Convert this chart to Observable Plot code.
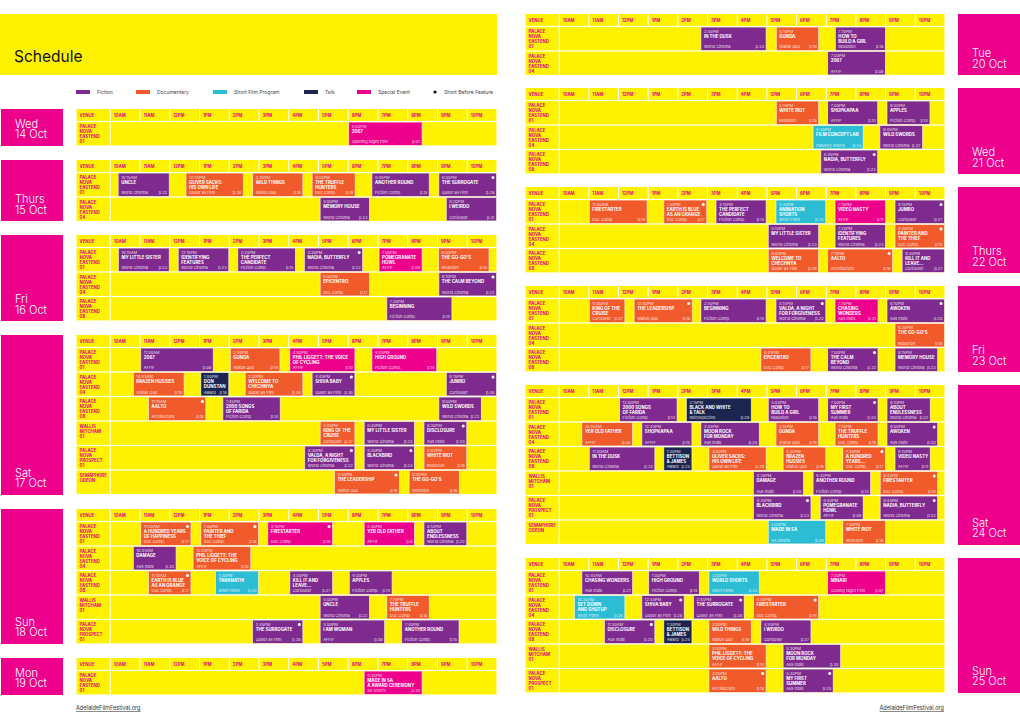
<!DOCTYPE html>
<html><head><meta charset="utf-8">
<script src="https://cdn.jsdelivr.net/npm/d3@7"></script>
<script src="https://cdn.jsdelivr.net/npm/@observablehq/plot@0.6"></script>
<style>
body{margin:0;background:#fff;font-family:Inter,"Noto Sans",sans-serif;}
#page{position:relative;width:1020px;height:721px;overflow:hidden;background:#fff;}
.daytag{position:absolute;top:0;width:62px;background:#ec008c;color:#fff;font-weight:300;font-size:11px;line-height:10.5px;box-sizing:border-box;}
.daytag span{position:absolute;left:14px;bottom:6px;white-space:pre;}
.abs{position:absolute;}
g[aria-label="title"] text{letter-spacing:0.1px;}
</style></head><body><div id="page"></div>
<script>
const YELLOW = "#fff200", PINK = "#ec008c";
const typeKeys = ["F","D","S","T","E"];
const typeNames = ["Fiction","Documentary","Short Film Program","Talk","Special Event"];
const typeColors = ["#7f2a8e","#f15a2b","#2cbcd4","#1b2550","#ec008c"];
const hourLabels = ["10AM","11AM","12PM","1PM","2PM","3PM","4PM","5PM","6PM","7PM","8PM","9PM","10PM"];
const venueLabels = {E01:"PALACE\nNOVA\nEASTEND\n01",E04:"PALACE\nNOVA\nEASTEND\n04",E08:"PALACE\nNOVA\nEASTEND\n08",W01:"WALLIS\nMITCHAM\n01",P01:"PALACE\nNOVA\nPROSPECT\n01",S:"SEMAPHORE\nODEON"};

// [venue, start hour, end hour, time label, title, category, page, type, short-before-feature]
const wed14Venues = ["E01"];
const wed14 = [
 ["E01",18.0,20.5,"6:00PM","2067","Opening Night Film","p.07","E",0]];
const thu15Venues = ["E01","E04"];
const thu15 = [
 ["E01",10.25,12.0,"10:15AM","UNCLE","World Cinema","p.22","F",0],
 ["E01",12.53,14.49,"12:30PM","OLIVER SACKS:\nHIS OWN LIFE","Queer as Film","p.28","D",0],
 ["E01",14.77,16.49,"2:45PM","WILD THINGS","Status Quo","p.19","D",0],
 ["E01",16.77,18.25,"4:50PM","THE TRUFFLE\nHUNTERS","Doc Comp.","p.18","D",0],
 ["E01",18.78,20.74,"6:45PM","ANOTHER ROUND","Fiction Comp.","p.15","F",0],
 ["E01",21.03,23.0,"9:00PM","THE SURROGATE","Queer as Film","p.28","F",1],
 ["E04",17.04,18.73,"5:00PM","MEMORY HOUSE","World Cinema","p.23","F",0],
 ["E04",21.28,23.0,"9:20PM","I WEIRDO","Curiouser","p.31","F",0]];
const fri16Venues = ["E01","E04","E08"];
const fri16 = [
 ["E01",10.26,12.0,"10:15AM","MY LITTLE SISTER","World Cinema","p.23","F",0],
 ["E01",12.27,14.0,"12:15PM","IDENTIFYING\nFEATURES","World Cinema","p.23","F",0],
 ["E01",14.27,16.24,"2:20PM","THE PERFECT\nCANDIDATE","Fiction Comp.","p.15","F",0],
 ["E01",16.51,18.5,"4:30PM","NADIA, BUTTERFLY","World Cinema","p.22","F",1],
 ["E01",19.02,20.5,"7:00PM","POMEGRANATE\nHOWL","AFFIF","p.09","E",0],
 ["E01",21.02,22.75,"9:00PM","THE GO-GO'S","Rebellion","p.18","D",0],
 ["E04",17.04,18.73,"5:00PM","EPICENTRO","Doc Comp.","p.17","D",0],
 ["E04",21.03,23.0,"9:10PM","THE CALM BEYOND","World Cinema","p.22","F",1],
 ["E08",19.28,21.5,"7:30PM","BEGINNING","Fiction Comp.","p.14","F",0]];
const sat17Venues = ["E01","E04","E08","W01","P01","S"];
const sat17 = [
 ["E01",11.01,13.48,"11:00AM","2067","AFFIF","p.08","F",0],
 ["E01",14.02,15.72,"2:00PM","GUNDA","Status Quo","p.19","D",0],
 ["E01",16.02,18.24,"4:00PM","PHIL LIGGETT: THE VOICE\nOF CYCLING","AFFIF","p.10","E",0],
 ["E01",18.78,20.99,"6:45PM","HIGH GROUND","Fiction Comp.","p.14","E",0],
 ["E04",10.76,12.5,"10:45AM","BRAZEN HUSSIES","Status Quo","p.19","D",0],
 ["E04",13.03,14.0,"1:00PM","DON\nDUNSTAN","Award","p.18","T",0],
 ["E04",14.52,16.49,"2:30PM","WELCOME TO\nCHECHNYA","Queer as Film","p.30","D",0],
 ["E04",16.77,18.24,"4:45PM","SHIVA BABY","Queer as Film","p.30","F",1],
 ["E04",21.28,23.0,"9:15PM","JUMBO","Curiouser","p.30","F",1],
 ["E08",11.27,13.23,"11:15AM","AALTO","Architecture","p.18","D",1],
 ["E08",13.77,15.73,"1:45PM","2000 SONGS\nOF FARIDA","Fiction Comp.","p.14","F",0],
 ["E08",21.03,22.49,"9:00PM","WILD SWORDS","World Cinema","p.22","F",0],
 ["W01",17.04,18.24,"5:00PM","KING OF THE\nCRUISE","Curiouser","p.27","D",0],
 ["W01",18.52,20.24,"6:30PM","MY LITTLE SISTER","World Cinema","p.23","F",0],
 ["W01",20.53,22.0,"8:30PM","DISCLOSURE","Aus Indie","p.20","F",1],
 ["P01",16.52,18.24,"4:30PM","VALDA, A NIGHT\nFOR FORGIVENESS","World Cinema","p.22","F",1],
 ["P01",18.52,20.24,"6:30PM","BLACKBIRD","World Cinema","p.23","F",1],
 ["P01",20.53,22.0,"8:40PM","WHITE RIOT","Rebellion","p.18","D",0],
 ["S",17.52,19.74,"5:30PM","THE LEADERSHIP","Status Quo","p.18","D",1],
 ["S",20.03,21.75,"8:00PM","THE GO-GO'S","Rebellion","p.18","D",0]];
const sun18Venues = ["E01","E04","E08","W01","P01"];
const sun18 = [
 ["E01",11.01,12.73,"11:00AM","A HUNDRED YEARS\nOF HAPPINESS","Doc Comp.","p.17","D",1],
 ["E01",13.03,15.0,"1:00PM","PAINTER AND\nTHE THIEF","Doc Comp.","p.18","D",1],
 ["E01",15.28,17.49,"3:15PM","FIRESTARTER","Doc Comp.","p.16","E",1],
 ["E01",18.52,20.24,"6:30PM","YER OLD FATHER","AFFIF","p.8","E",0],
 ["E01",20.53,22.0,"8:10PM","ABOUT\nENDLESSNESS","World Cinema","p.22","F",0],
 ["E04",10.76,12.23,"10:45AM","DAMAGE","Aus Indie","p.20","F",0],
 ["E04",12.77,14.74,"12:45PM","PHIL LIGGETT: THE\nVOICE OF CYCLING","AFFIF","p.10","D",0],
 ["E08",11.27,12.73,"11:15AM","EARTH IS BLUE\nAS AN ORANGE","Doc Comp.","p.17","D",1],
 ["E08",13.52,15.0,"1:30PM","TARANATHI","Short Films","p.26","S",0],
 ["E08",16.02,17.49,"4:00PM","KILL IT AND\nLEAVE...","Curiouser","p.27","F",0],
 ["E08",18.02,19.49,"6:00PM","APPLES","Fiction Comp.","p.14","F",0],
 ["W01",17.04,18.73,"5:00PM","UNCLE","World Cinema","p.22","F",0],
 ["W01",19.28,20.74,"7:15PM","THE TRUFFLE\nHUNTERS","Doc Comp.","p.18","D",0],
 ["P01",14.77,16.49,"2:45PM","THE SURROGATE","Queer as Film","p.28","F",1],
 ["P01",17.04,19.24,"5:00PM","I AM WOMAN","AFFIF","p.08","F",0],
 ["P01",19.78,21.74,"7:40PM","ANOTHER ROUND","Fiction Comp.","p.15","F",0]];
const mon19Venues = ["E01"];
const mon19 = [
 ["E01",18.52,20.5,"6:30PM","MADE IN SA\nA AWARD CEREMONY","SA Shorts","p.26","E",0]];
const tue20Venues = ["E01","E04"];
const tue20 = [
 ["E01",14.76,16.99,"2:45PM","IN THE DUSK","World Cinema","p.23","F",0],
 ["E01",17.3,18.76,"5:15PM","GUNDA","Status Quo","p.19","D",0],
 ["E01",19.29,21.01,"7:15PM","HOW TO\nBUILD A GIRL","Rebellion","p.18","F",0],
 ["E04",19.03,21.01,"7:00PM","2067","AFFIF","p.08","F",0]];
const wed21Venues = ["E01","E04","E08"];
const wed21 = [
 ["E01",17.3,18.76,"5:15PM","WHITE RIOT","Rebellion","p.18","D",0],
 ["E01",19.03,20.75,"7:00PM","SHOPKAPAA","AFFIF","p.10","F",0],
 ["E01",21.03,22.51,"9:00PM","APPLES","Fiction Comp.","p.14","F",0],
 ["E04",18.54,20.26,"6:30PM","FILM CONCEPT LAB","Industry Shorts","p.26","S",0],
 ["E04",20.79,22.26,"8:45PM","WILD SWORDS","World Cinema","p.22","F",0],
 ["E08",18.8,20.75,"6:45PM","NADIA, BUTTERFLY","World Cinema","p.22","F",1]];
const thu22Venues = ["E01","E04","E08"];
const thu22 = [
 ["E01",11.0,12.98,"11:00AM","FIRESTARTER","Doc Comp.","p.16","D",0],
 ["E01",13.51,14.99,"1:30PM","EARTH IS BLUE\nAS AN ORANGE","Doc Comp.","p.17","D",1],
 ["E01",15.27,16.99,"3:15PM","THE PERFECT\nCANDIDATE","Fiction Comp.","p.15","F",0],
 ["E01",17.29,19.0,"5:30PM","ANIMATION\nSHORTS","Short Films","p.25","S",0],
 ["E01",19.28,21.01,"7:15PM","VIDEO NASTY","AFFIF","p.11","E",0],
 ["E01",21.3,23.0,"9:15PM","JUMBO","Curiouser","p.27","F",1],
 ["E04",17.03,18.76,"5:10PM","MY LITTLE SISTER","World Cinema","p.23","F",0],
 ["E04",19.28,21.01,"7:20PM","IDENTIFYING\nFEATURES","World Cinema","p.23","F",0],
 ["E04",21.3,23.0,"9:20PM","PAINTER AND\nTHE THIEF","Doc Comp.","p.16","D",1],
 ["E08",17.03,18.76,"5:00PM","WELCOME TO\nCHECHNYA","Queer as Film","p.29","D",0],
 ["E08",19.03,21.25,"7:10PM","AALTO","Architecture","p.18","D",1],
 ["E08",21.54,23.0,"9:30PM","KILL IT AND\nLEAVE...","Curiouser","p.27","F",0]];
const fri23Venues = ["E01","E04","E08"];
const fri23 = [
 ["E01",11.0,12.23,"11:00AM","KING OF THE\nCRUISE","Curiouser","p.27","D",0],
 ["E01",12.51,14.5,"12:40PM","THE LEADERSHIP","Status Quo","p.18","D",1],
 ["E01",14.76,16.99,"2:50PM","BEGINNING","Fiction Comp.","p.14","F",0],
 ["E01",17.29,19.0,"5:15PM","VALDA, A NIGHT\nFOR FORGIVENESS","World Cinema","p.22","F",1],
 ["E01",19.28,20.76,"7:15PM","CHASING\nWONDERS","Aus Indie","p.21","E",0],
 ["E01",21.03,23.0,"9:10PM","AWOKEN","Aus Indie","p.20","F",1],
 ["E04",21.3,23.0,"9:20PM","THE GO-GO'S","Rebellion","p.18","D",0],
 ["E08",16.78,18.5,"4:45PM","EPICENTRO","Doc Comp.","p.17","D",0],
 ["E08",19.03,20.76,"7:00PM","THE CALM\nBEYOND","World Cinema","p.22","F",1],
 ["E08",21.3,22.77,"9:15PM","MEMORY HOUSE","World Cinema","p.23","F",0]];
const sat24Venues = ["E01","E04","E08","W01","P01","S"];
const sat24 = [
 ["E01",12.02,13.99,"12:00PM","2000 SONGS\nOF FARIDA","Fiction Comp.","p.14","F",0],
 ["E01",14.27,16.49,"2:15PM","BLACK AND WHITE\n& TALK","Retrospective","p.29","T",0],
 ["E01",17.03,18.76,"5:00PM","HOW TO\nBUILD A GIRL","Rebellion","p.18","F",0],
 ["E01",19.03,20.76,"7:00PM","MY FIRST\nSUMMER","Aus Indie","p.20","F",1],
 ["E01",21.03,22.52,"9:10PM","ABOUT\nENDLESSNESS","World Cinema","p.22","F",0],
 ["E04",10.75,12.49,"10:45AM","YER OLD FATHER","AFFIF","p.08","D",0],
 ["E04",12.77,14.49,"12:45PM","SHOPKAPAA","AFFIF","p.10","F",0],
 ["E04",14.76,16.76,"2:45PM","MOON ROCK\nFOR MONDAY","Aus Indie","p.20","F",0],
 ["E04",17.29,18.76,"5:15PM","GUNDA","Status Quo","p.19","D",0],
 ["E04",19.28,20.76,"7:15PM","THE TRUFFLE\nHUNTERS","Doc Comp.","p.18","D",0],
 ["E04",21.03,22.77,"9:00PM","AWOKEN","Aus Indie","p.20","F",1],
 ["E08",11.0,13.24,"11:00AM","IN THE DUSK","World Cinema","p.23","F",0],
 ["E08",13.51,14.49,"1:30PM","BETTISON\n& JAMES","Award","p.25","T",0],
 ["E08",15.03,16.99,"3:00PM","OLIVER SACKS:\nHIS OWN LIFE","Queer as Film","p.29","D",0],
 ["E08",17.53,19.0,"5:30PM","BRAZEN\nHUSSIES","Status Quo","p.19","D",0],
 ["E08",19.54,21.01,"7:30PM","A HUNDRED\nYEARS...","Doc Comp.","p.17","D",1],
 ["E08",21.3,22.52,"9:15PM","VIDEO NASTY","AFFIF","p.11","F",0],
 ["W01",16.53,18.25,"4:30PM","DAMAGE","Aus Indie","p.20","F",0],
 ["W01",18.54,20.51,"6:30PM","ANOTHER ROUND","Fiction Comp.","p.15","F",0],
 ["W01",20.8,22.77,"8:45PM","FIRESTARTER","Doc Comp.","p.16","D",1],
 ["P01",16.53,18.5,"4:30PM","BLACKBIRD","World Cinema","p.23","F",1],
 ["P01",18.78,20.26,"6:40PM","POMEGRANATE\nHOWL","AFFIF","p.09","F",0],
 ["P01",20.8,22.77,"8:45PM","NADIA, BUTTERFLY","World Cinema","p.22","F",1],
 ["S",17.03,19.0,"5:00PM","MADE IN SA","SA Shorts","p.26","S",0],
 ["S",19.54,21.01,"7:30PM","WHITE RIOT","Rebellion","p.18","D",0]];
const sun25Venues = ["E01","E04","E08","W01","P01"];
const sun25 = [
 ["E01",10.75,12.49,"10:45AM","CHASING WONDERS","Aus Indie","p.21","F",0],
 ["E01",13.0,14.74,"1:00PM","HIGH GROUND","Fiction Comp.","p.14","F",0],
 ["E01",15.03,16.76,"3:00PM","WORLD SHORTS","Short Films","p.25","S",0],
 ["E01",19.03,21.01,"7:00PM","MINARI","Closing Night Film","p.07","E",0],
 ["E04",10.5,12.23,"10:30AM","SET DOWN\nAND SHUTUP","Short Films","p.26","S",0],
 ["E04",12.77,14.23,"12:45PM","SHIVA BABY","Queer as Film","p.28","F",1],
 ["E04",14.51,16.25,"2:40PM","THE SURROGATE","Queer as Film","p.28","F",1],
 ["E04",16.53,18.76,"4:40PM","FIRESTARTER","Doc Comp.","p.16","D",1],
 ["E08",11.51,13.24,"11:30AM","DISCLOSURE","Aus Indie","p.20","F",1],
 ["E08",13.51,14.49,"1:30PM","BETTISON\n& JAMES","Award","p.25","T",0],
 ["E08",15.03,16.49,"3:00PM","WILD THINGS","Status Quo","p.19","D",0],
 ["E08",16.78,18.5,"4:45PM","I WEIRDO","Curiouser","p.27","F",0],
 ["W01",15.03,16.99,"3:00PM","PHIL LIGGETT: THE\nVOICE OF CYCLING","AFFIF","p.10","D",0],
 ["W01",17.53,19.5,"5:30PM","MOON ROCK\nFOR MONDAY","Aus Indie","p.20","F",0],
 ["P01",15.03,16.99,"3:00PM","AALTO","Architecture","p.18","D",1],
 ["P01",17.53,19.25,"5:30PM","MY FIRST\nSUMMER","Aus Indie","p.20","F",1]];

const leftLabels = ["Wed\n14 Oct","Thurs\n15 Oct","Fri\n16 Oct","Sat\n17 Oct","Sun\n18 Oct","Mon\n19 Oct"];
const rightLabels = ["Tue\n20 Oct","Wed\n21 Oct","Thurs\n22 Oct","Fri\n23 Oct","Sat\n24 Oct","Sun\n25 Oct"];
const leftVenues = [wed14Venues,thu15Venues,fri16Venues,sat17Venues,sun18Venues,mon19Venues];
const leftEvents = [wed14,thu15,fri16,sat17,sun18,mon19];
const rightVenues = [tue20Venues,wed21Venues,thu22Venues,fri23Venues,sat24Venues,sun25Venues];
const rightEvents = [tue20,wed21,thu22,fri23,sat24,sun25];

const ROW = 24.5, HDR = 0.51, X0 = 8.85, X1 = 23;

function dayPlot(venues, events, width) {
  const n = venues.length;
  const height = ROW * (n + HDR);
  const header = [{a: X0, b: 10, t: "VENUE"}].concat(hourLabels.map((t, i) => ({a: 10 + i, b: 11 + i, t})));
  const rows = venues.map((v, i) => ({y1: HDR + i, y2: HDR + i + 1, t: venueLabels[v]}));
  const ev = events.map(e => {
    const i = venues.indexOf(e[0]);
    return {y1: HDR + i, y2: HDR + i + 1, a: e[1], b: e[2], time: e[3], title: e[4], cat: e[5], page: e[6],
      type: typeNames[typeKeys.indexOf(e[7])], dot: e[8]};
  });
  const ins = {insetLeft: 0.5, insetRight: 0.5, insetTop: 0.6, insetBottom: 0.6};
  return Plot.plot({
    width, height, margin: 0,
    x: {domain: [X0, X1], range: [0, width], axis: null},
    y: {domain: [0, n + HDR], range: [0, height], axis: null},
    color: {domain: typeNames, range: typeColors},
    style: {fontFamily: "Inter, 'Noto Sans', sans-serif", background: "transparent", overflow: "visible"},
    marks: [
      Plot.rect(header, {x1: "a", x2: "b", y1: 0, y2: HDR, fill: YELLOW, ...ins, insetTop: 0}),
      Plot.text(header, {x: "a", y: HDR / 2, text: "t", dx: 3, textAnchor: "start", fill: PINK, fontSize: 4.3, fontWeight: 700}),
      Plot.rect(rows, {x1: X0, x2: 10, y1: "y1", y2: "y2", fill: YELLOW, ...ins}),
      Plot.rect(rows, {x1: 10, x2: X1, y1: "y1", y2: "y2", fill: YELLOW, ...ins}),
      Plot.text(rows, {x: X0, y: "y1", text: "t", dx: 3, dy: 2.5, lineAnchor: "top", lineHeight: 1.17, textAnchor: "start", fill: PINK, fontSize: 4.3, fontWeight: 700}),
      Plot.rect(ev, {x1: "a", x2: "b", y1: "y1", y2: "y2", fill: "type", stroke: "white", strokeOpacity: 0.7, strokeWidth: 0.8, ...ins}),
      Plot.text(ev, {x: "a", y: "y1", text: "time", dx: 3, dy: 4.6, textAnchor: "start", fill: "white", fillOpacity: 0.85, fontSize: 4}),
      Plot.text(ev, {x: "a", y: "y1", text: "title", dx: 3, dy: 7.3, lineAnchor: "top", lineHeight: 1.13, textAnchor: "start", fill: "white", fontSize: 4.4, fontWeight: 700, ariaLabel: "title"}),
      Plot.text(ev, {x: "a", y: "y2", text: "cat", dx: 3, dy: -4.4, textAnchor: "start", fill: "white", fillOpacity: 0.85, fontSize: 4}),
      Plot.text(ev, {x: "b", y: "y2", text: "page", dx: -3, dy: -4.4, textAnchor: "end", fill: "white", fillOpacity: 0.85, fontSize: 4}),
      Plot.dot(ev.filter(d => d.dot), {x: "b", y: "y1", dx: -4.5, dy: 4.6, r: 1.5, fill: "white", stroke: "none"})
    ]
  });
}

const page = document.getElementById("page");

function placeDay(label, venues, events, side, yTop) {
  const h = ROW * (venues.length + HDR);
  const tag = document.createElement("div");
  tag.className = "daytag";
  tag.style.top = yTop + "px";
  tag.style.left = side === "L" ? "1px" : "958px";
  tag.style.height = h + "px";
  const sp = document.createElement("span");
  sp.textContent = label;
  tag.appendChild(sp);
  page.appendChild(tag);
  const width = side === "L" ? 421 : 420;
  const svg = dayPlot(venues, events, width);
  svg.style.position = "absolute";
  svg.style.left = (side === "L" ? 76 : 525) + "px";
  svg.style.top = yTop + "px";
  page.appendChild(svg);
  return h;
}

// Title block
const titleBlock = document.createElement("div");
titleBlock.className = "abs";
titleBlock.style.cssText = "left:0;top:14px;width:497px;height:61px;background:#fff200;";
titleBlock.innerHTML = '<span style="position:absolute;left:14px;bottom:9px;font-size:15.5px;color:#111;font-weight:400;">Schedule</span>';
page.appendChild(titleBlock);

// Legend (SVG)
const legendOffsets = [0, 60, 137, 228, 281];
const leg = d3.create("svg").attr("width", 430).attr("height", 10)
  .style("position", "absolute").style("left", "76px").style("top", "87px")
  .style("font-family", "Inter, 'Noto Sans', sans-serif");
typeNames.forEach((t, i) => {
  const g = leg.append("g").attr("transform", `translate(${legendOffsets[i]},0)`);
  g.append("rect").attr("x", 0).attr("y", 3).attr("width", 14).attr("height", 4).attr("fill", typeColors[i]);
  g.append("text").attr("x", 21).attr("y", 5).attr("dy", "0.35em").attr("font-size", 5).attr("fill", "#444").text(t);
});
const lg = leg.append("g").attr("transform", "translate(359,0)");
lg.append("circle").attr("cx", 0).attr("cy", 5).attr("r", 1.6).attr("fill", "#111");
lg.append("text").attr("x", 9).attr("y", 5).attr("dy", "0.35em").attr("font-size", 5).attr("fill", "#444").text("Short Before Feature");
page.appendChild(leg.node());

let cursorY = 109;
leftLabels.forEach((l, i) => { cursorY += placeDay(l, leftVenues[i], leftEvents[i], "L", cursorY) + 14; });
cursorY = 14;
rightLabels.forEach((l, i) => { cursorY += placeDay(l, rightVenues[i], rightEvents[i], "R", cursorY) + 13; });

// Footers
function footer(x, anchor) {
  const s = d3.create("svg").attr("width", 140).attr("height", 10)
    .style("position", "absolute").style("left", (anchor === "start" ? x : x - 140) + "px").style("top", "703px");
  s.append("text").attr("x", anchor === "start" ? 0 : 140).attr("y", 7).attr("text-anchor", anchor)
    .attr("font-size", 5.6).attr("fill", "#333").attr("font-family", "Inter, 'Noto Sans', sans-serif")
    .style("text-decoration", "underline").text("AdelaideFilmFestival.org");
  page.appendChild(s.node());
}
footer(76, "start");
footer(944, "end");
</script></body></html>
